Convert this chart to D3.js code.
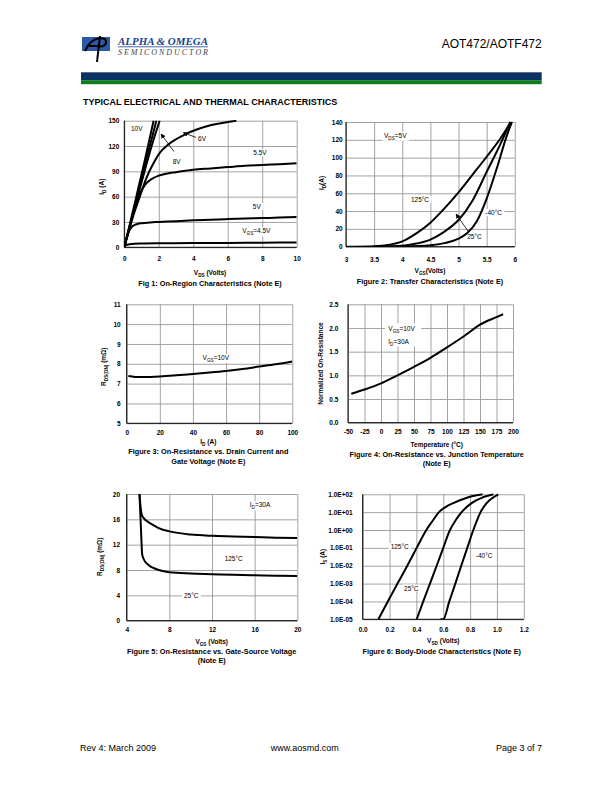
<!DOCTYPE html>
<html><head><meta charset="utf-8">
<script src="https://cdn.jsdelivr.net/npm/d3@7"></script>
<style>
body{margin:0;background:#fff}
svg{display:block}
text{font-family:"Liberation Sans",Arial,sans-serif}
</style></head><body>
<svg id="page" width="612" height="792"></svg>
<script>
// ---------- DATA ----------
// Fig 1: On-region characteristics, [Vds, Id]
const fig1XTicks = [0,2,4,6,8,10];
const fig1YTicks = [0,30,60,90,120,150];
const fig1Vgs10 = [[0,0],[0.4,34],[0.8,69],[1.2,104],[1.7,150]];
const fig1Vgs8  = [[0,0],[0.4,32],[0.8,65],[1.2,98],[1.86,150]];
const fig1Vgs7  = [[0,0],[0.4,31],[0.8,62],[1.2,92],[1.6,121],[2.05,150]];
const fig1Vgs6  = [[0,0],[0.5,36],[0.9,60],[1.3,83],[1.7,100],[2.1,113],[2.5,121],[3,128],[3.6,134.5],[4.2,139.5],[5,144.5],[6,148.5],[6.5,150]];
const fig1Vgs55 = [[0,0],[0.3,24],[0.6,46],[0.9,63],[1.2,74],[1.6,81],[2,85],[2.5,87.5],[3,89],[4,92],[5,93.5],[6,95],[7,96.5],[8,97.5],[9,98.5],[10,99.5]];
const fig1Vgs5  = [[0,0],[0.1,8],[0.2,15],[0.3,20],[0.45,24.5],[0.6,26.5],[0.8,27.8],[1,28.5],[1.5,29.5],[2,30],[3,31],[4,32],[5,32.7],[6,33.4],[7,34],[8,34.6],[9,35.2],[10,36]];
const fig1Vgs45 = [[0,0],[0.1,2.5],[0.3,3.5],[0.6,4.2],[1,4.5],[2,4.8],[4,5],[6,5.2],[8,5.5],[10,5.8]];

// Fig 2: Transfer characteristics, [Vgs, Id]
const fig2XTicks = [3,3.5,4,4.5,5,5.5,6];
const fig2YTicks = [0,20,40,60,80,100,120,140];
const fig2T125 = [[3.0,0],[3.5,0.6],[3.75,2],[4.0,6],[4.25,15],[4.5,27],[4.75,43],[5.0,61],[5.25,81],[5.5,101],[5.75,122],[5.93,140]];
const fig2T25  = [[3.5,0],[4.0,1],[4.25,3.5],[4.5,8],[4.75,17],[5.0,30],[5.25,52],[5.5,84],[5.75,116],[5.92,140]];
const fig2Tm40 = [[4.0,0],[4.5,1.5],[4.75,4],[5.0,9],[5.15,15],[5.32,28],[5.5,54],[5.68,88],[5.86,125],[5.95,140]];

// Fig 3: Rds(on) vs Id, [Id, mOhm]
const fig3XTicks = [0,20,40,60,80,100];
const fig3YTicks = [5,6,7,8,9,10,11];
const fig3Vgs10 = [[1,7.38],[5,7.34],[10,7.33],[20,7.36],[30,7.42],[40,7.49],[50,7.56],[60,7.64],[70,7.74],[80,7.86],[90,7.98],[100,8.12]];

// Fig 4: Normalized Rds(on) vs temperature
const fig4XTicks = [-50,-25,0,25,50,75,100,125,150,175,200];
const fig4YTicks = [0,0.5,1,1.5,2,2.5];
const fig4Temp = [-45,-25,0,25,50,75,100,125,150,175,185];
const fig4Rnorm = [0.61,0.70,0.83,1.0,1.18,1.37,1.59,1.82,2.07,2.23,2.29];

// Fig 5: Rds(on) vs Vgs, [Vgs, mOhm]
const fig5XTicks = [4,8,12,16,20];
const fig5YTicks = [0,4,8,12,16,20];
const fig5T125 = [[5.2,20],[5.3,18],[5.4,16.8],[5.6,16.2],[6,15.6],[6.5,15.1],[7,14.6],[8,14.1],[10,13.6],[12,13.4],[14,13.3],[16,13.2],[18,13.1],[20,13.05]];
const fig5T25  = [[5.2,20],[5.3,16],[5.4,12],[5.45,10.5],[5.6,9.7],[5.9,9.0],[6.4,8.4],[7,8.0],[8,7.65],[10,7.45],[12,7.35],[14,7.25],[16,7.18],[18,7.1],[20,7.05]];

// Fig 6: Body diode, Vsd vs Is (log)
const fig6XTicks = [0,0.2,0.4,0.6,0.8,1.0,1.2];
const fig6YTicks = [1e-5,1e-4,1e-3,1e-2,1e-1,1,10,100];
const fig6YLabels = ["1.0E-05","1.0E-04","1.0E-03","1.0E-02","1.0E-01","1.0E+00","1.0E+01","1.0E+02"];
const fig6V125 = [0.117,0.187,0.259,0.332,0.402,0.474,0.52,0.568,0.62,0.675,0.75,0.82,0.893];
const fig6I125 = [1e-5,1e-4,1e-3,1e-2,1e-1,1,3.2,10,20,32,55,80,100];
const fig6V25  = [0.402,0.451,0.501,0.551,0.600,0.650,0.69,0.737,0.811,0.89,0.973];
const fig6I25  = [1e-5,1e-4,1e-3,1e-2,1e-1,1,3.3,10,32,65,100];
const fig6Vm40 = [0.58,0.600,0.645,0.690,0.734,0.779,0.824,0.85,0.878,0.923,0.97,1.010];
const fig6Im40 = [1e-5,1e-5,1e-4,1e-3,1e-2,1e-1,1,3.3,10,32,65,100];

// ---------- DRAWING ----------
const svg = d3.select("#page");
const FS = 6.5;   // ticks, labels, axis titles
const CFS = 7.3;  // figure captions
const defs = svg.append("defs");
defs.append("marker").attr("id","ah").attr("viewBox","0 0 10 10").attr("refX",9).attr("refY",5)
  .attr("markerWidth",6).attr("markerHeight",6).attr("orient","auto")
  .append("path").attr("d","M0,0L10,5L0,10z").attr("fill","#000");

function rich(g, x, y, str, o = {}) {
  const fs = o.fs || FS;
  const rot = !!o.rot;
  const tx = rot ? x + 0.35*fs : x, ty = rot ? y : y + 0.35*fs;
  const t = g.append("text").attr("x", tx).attr("y", ty)
    .attr("font-size", fs).attr("font-weight", o.w || "bold")
    .attr("text-anchor", o.anchor || "middle").attr("fill", o.fill || "#000");
  if (rot) t.attr("transform", `rotate(-90,${tx},${ty})`);
  const parts = str.split(/(\{[^}]*\})/).filter(s => s.length);
  let shifted = false;
  parts.forEach(p => {
    if (p[0] === "{") {
      t.append("tspan").attr("font-size", fs*0.72).attr("dy", fs*0.3).text(p.slice(1,-1));
      shifted = true;
    } else {
      const ts = t.append("tspan").text(p);
      if (shifted) { ts.attr("dy", -fs*0.3); shifted = false; }
    }
  });
  if (o.bg) {
    const b = t.node().getBBox();
    g.insert("rect", () => t.node()).attr("x", b.x-2).attr("y", b.y).attr("width", b.width+4).attr("height", b.height).attr("fill", "#fff");
  }
  return t;
}
function arrow(g, x1, y1, x2, y2) {
  g.append("line").attr("x1",x1).attr("y1",y1).attr("x2",x2).attr("y2",y2)
    .attr("stroke","#000").attr("stroke-width",0.8).attr("marker-end","url(#ah)");
}

let clipId = 0;
function chart(c) {
  const g = svg.append("g");
  const x = d3.scaleLinear().domain(c.xd).range([c.l, c.r]);
  const y = (c.log ? d3.scaleLog() : d3.scaleLinear()).domain(c.yd).range([c.b, c.t]);
  const W = c.r - c.l, H = c.b - c.t;
  g.append("g").attr("transform", `translate(0,${c.b})`)
    .call(d3.axisBottom(x).tickValues(c.xt).tickSize(-H).tickFormat(""))
    .call(s => { s.select(".domain").remove(); s.selectAll("line").attr("stroke","#999").attr("stroke-width",0.9); });
  g.append("g").attr("transform", `translate(${c.l},0)`)
    .call(d3.axisLeft(y).tickValues(c.yt).tickSize(-W).tickFormat(""))
    .call(s => { s.select(".domain").remove(); s.selectAll("line").attr("stroke","#999").attr("stroke-width",0.9); });
  const lab = g.append("g");
  const id = "clip" + (clipId++);
  defs.append("clipPath").attr("id", id).append("rect").attr("x", c.l).attr("y", c.t - 1).attr("width", W).attr("height", H + 1);
  const line = d3.line().x(d => x(d[0])).y(d => y(d[1])).curve(d3.curveMonotoneX);
  const cg = g.append("g").attr("clip-path", `url(#${id})`);
  c.series.forEach(s => cg.append("path").attr("d", line(s)).attr("fill","none")
    .attr("stroke","#000").attr("stroke-width",2).attr("stroke-linejoin","round"));
  g.append("line").attr("x1",c.l).attr("x2",c.l).attr("y1",c.t).attr("y2",c.b).attr("stroke","#000").attr("stroke-width",1);
  g.append("line").attr("x1",c.l).attr("x2",c.r).attr("y1",c.b).attr("y2",c.b).attr("stroke","#000").attr("stroke-width",1);
  g.append("g").attr("transform", `translate(0,${c.b})`)
    .call(d3.axisBottom(x).tickValues(c.xt).tickSize(0).tickPadding(c.xly - c.b - 0.36*FS).tickFormat(c.xf || (d => d)))
    .call(s => { s.select(".domain").remove(); s.attr("font-size", FS).attr("font-family", null).attr("font-weight","bold"); });
  g.append("g").attr("transform", `translate(${c.l},0)`)
    .call(d3.axisLeft(y).tickValues(c.yt).tickSize(0).tickPadding(c.l - c.ylr).tickFormat(c.yf || (d => d)))
    .call(s => { s.select(".domain").remove(); s.attr("font-size", FS).attr("font-family", null).attr("font-weight","bold"); });
  return {g, lab, x, y};
}

// ---------- HEADER ----------
svg.append("rect").attr("x",82).attr("y",37).attr("width",28).attr("height",14).attr("fill","#2c5aa8");
svg.append("path").attr("d","M85,51 C88,44 93,39 100,38 C104,38 107,40 106,43 C105,46 101,47 96,46 L89,46")
  .attr("fill","none").attr("stroke","#000").attr("stroke-width",2.2);
svg.append("path").attr("d","M100,36 L97,62").attr("stroke","#000").attr("stroke-width",2);
svg.append("text").attr("x",118).attr("y",45).style("font-family","'Liberation Serif','DejaVu Serif',serif").attr("font-style","italic")
  .attr("font-weight","bold").attr("font-size",10.5).attr("fill","#1c3f94").attr("textLength",90).attr("lengthAdjust","spacingAndGlyphs").text("ALPHA & OMEGA");
svg.append("line").attr("x1",118).attr("x2",208).attr("y1",46.8).attr("y2",46.8).attr("stroke","#1c3f94").attr("stroke-width",0.8);
svg.append("text").attr("x",118).attr("y",54.5).style("font-family","'Liberation Serif','DejaVu Serif',serif").attr("font-style","italic")
  .attr("font-size",8).attr("fill","#444").attr("textLength",90).attr("lengthAdjust","spacing").text("SEMICONDUCTOR");
svg.append("text").attr("x",541.7).attr("y",48.3).attr("text-anchor","end").attr("font-size",12).text("AOT472/AOTF472");
svg.append("rect").attr("x",81).attr("y",72.3).attr("width",460.7).attr("height",7.9).attr("fill","#0b3366");
svg.append("rect").attr("x",81).attr("y",80.2).attr("width",460.7).attr("height",4).attr("fill","#0a7d1a");
svg.append("text").attr("x",83).attr("y",104.5).attr("font-size",9).attr("font-weight","bold").text("TYPICAL ELECTRICAL AND THERMAL CHARACTERISTICS");

// ---------- FIG 1 ----------
{
  const c = chart({l:124.3,r:296.7,t:120.7,b:247.3,xd:[0,10],yd:[0,150],xt:fig1XTicks,yt:fig1YTicks,xly:258.3,ylr:119.3,
    series:[fig1Vgs10,fig1Vgs8,fig1Vgs7,fig1Vgs6,fig1Vgs55,fig1Vgs5,fig1Vgs45]});
  rich(c.lab,136.7,128.3,"10V",{bg:true,w:"normal"});
  rich(c.lab,202,138.7,"6V",{bg:true,w:"normal"});
  rich(c.lab,176.7,162.2,"8V",{bg:true,w:"normal"});
  rich(c.lab,260,153,"5.5V",{bg:true,w:"normal"});
  rich(c.lab,256.8,206.7,"5V",{bg:true,w:"normal"});
  rich(c.lab,256.3,231.2,"V{GS}=4.5V",{bg:true,w:"normal"});
  arrow(c.g,196,137.4,183.3,132.7);
  arrow(c.g,174,151.5,161,134);
  rich(svg,101.7,186.7,"I{D} (A)",{rot:true});
  rich(svg,210,272.7,"V{DS} (Volts)");
  rich(svg,210,283.3,"Fig 1: On-Region Characteristics (Note E)",{fs:CFS});
}
// ---------- FIG 2 ----------
{
  const c = chart({l:346,r:514.8,t:122,b:246.7,xd:[3,6],yd:[0,140],xt:fig2XTicks,yt:fig2YTicks,xly:259.3,ylr:342.7,
    series:[fig2T125,fig2T25,fig2Tm40]});
  rich(c.lab,395.3,135.5,"V{DS}=5V",{bg:true,w:"normal"});
  rich(c.lab,420,199.5,"125°C",{bg:true,w:"normal"});
  rich(c.lab,493.7,212.8,"-40°C",{bg:true,w:"normal"});
  rich(c.lab,474.5,236.3,"25°C",{bg:true,w:"normal"});
  arrow(c.g,468,231,456,214);
  rich(svg,321.7,183,"I{D}(A)",{rot:true});
  rich(svg,430,270.7,"V{GS}(Volts)");
  rich(svg,430,281.7,"Figure 2: Transfer Characteristics (Note E)",{fs:CFS});
}
// ---------- FIG 3 ----------
{
  const c = chart({l:126.7,r:292.3,t:304.3,b:423.3,xd:[0,100],yd:[5,11],xt:fig3XTicks,yt:fig3YTicks,xly:432.3,ylr:120.7,
    series:[fig3Vgs10]});
  rich(c.lab,215.8,357.8,"V{GS}=10V",{bg:true,w:"normal"});
  rich(svg,103.3,366.7,"R{DS(ON)} (mΩ)",{rot:true});
  rich(svg,208.3,441.7,"I{D} (A)");
  rich(svg,208.3,451.2,"Figure 3: On-Resistance vs. Drain Current and",{fs:CFS});
  rich(svg,208.3,461.2,"Gate Voltage (Note E)",{fs:CFS});
}
// ---------- FIG 4 ----------
{
  const c = chart({l:348,r:513,t:304.3,b:422.7,xd:[-50,200],yd:[0,2.5],xt:fig4XTicks,yt:fig4YTicks,xly:431.7,ylr:338.3,
    yf:d3.format(".1f"), series:[fig4Temp.map((t,i)=>[t,fig4Rnorm[i]])]});
  c.lab.append("rect").attr("x",385).attr("y",323.5).attr("width",36).attr("height",23).attr("fill","#fff");
  rich(c.lab,388.3,328.5,"V{GS}=10V",{anchor:"start",w:"normal"});
  rich(c.lab,388.3,341.8,"I{D}=30A",{anchor:"start",w:"normal"});
  rich(svg,320.7,363.5,"Normalized On-Resistance",{rot:true});
  rich(svg,436.7,445,"Temperature (°C)");
  rich(svg,436.7,454.5,"Figure 4: On-Resistance vs. Junction Temperature",{fs:CFS});
  rich(svg,436.7,463.5,"(Note E)",{fs:CFS});
}
// ---------- FIG 5 ----------
{
  const c = chart({l:126.7,r:297.3,t:494,b:620.7,xd:[4,20],yd:[0,20],xt:fig5XTicks,yt:fig5YTicks,xly:630,ylr:120,
    series:[fig5T125,fig5T25]});
  rich(c.lab,260,505,"I{D}=30A",{bg:true,w:"normal"});
  rich(c.lab,233.7,559.2,"125°C",{bg:true,w:"normal"});
  rich(c.lab,191.2,595.8,"25°C",{bg:true,w:"normal"});
  rich(svg,100,556.7,"R{DS(ON)} (mΩ)",{rot:true});
  rich(svg,211.7,641.7,"V{GS} (Volts)");
  rich(svg,211.7,651.2,"Figure 5: On-Resistance vs. Gate-Source Voltage",{fs:CFS});
  rich(svg,211.7,660.2,"(Note E)",{fs:CFS});
}
// ---------- FIG 6 ----------
{
  const c = chart({l:362.7,r:523.8,t:494.3,b:619.3,xd:[0,1.2],yd:[1e-5,100],log:true,xt:fig6XTicks,yt:fig6YTicks,xly:630,ylr:352.7,
    xf:d3.format(".1f"), yf:(d,i)=>fig6YLabels[i],
    series:[fig6V125.map((v,i)=>[v,fig6I125[i]]), fig6V25.map((v,i)=>[v,fig6I25[i]]), fig6Vm40.map((v,i)=>[v,fig6Im40[i]])]});
  rich(c.lab,399.7,546.7,"125°C",{bg:true,w:"normal"});
  rich(c.lab,411.3,588.3,"25°C",{bg:true,w:"normal"});
  rich(c.lab,484.2,555.5,"-40°C",{bg:true,w:"normal"});
  rich(svg,322.7,556.7,"I{S} (A)",{rot:true});
  rich(svg,443.3,641,"V{SD} (Volts)");
  rich(svg,441.7,651.9,"Figure 6: Body-Diode Characteristics (Note E)",{fs:CFS});
}
// ---------- FOOTER ----------
svg.append("text").attr("x",80).attr("y",751).attr("font-size",9).text("Rev 4: March 2009");
svg.append("text").attr("x",304.7).attr("y",751).attr("font-size",9).attr("text-anchor","middle").text("www.aosmd.com");
svg.append("text").attr("x",542).attr("y",751).attr("font-size",9).attr("text-anchor","end").text("Page 3 of 7");
</script>
</body></html>
